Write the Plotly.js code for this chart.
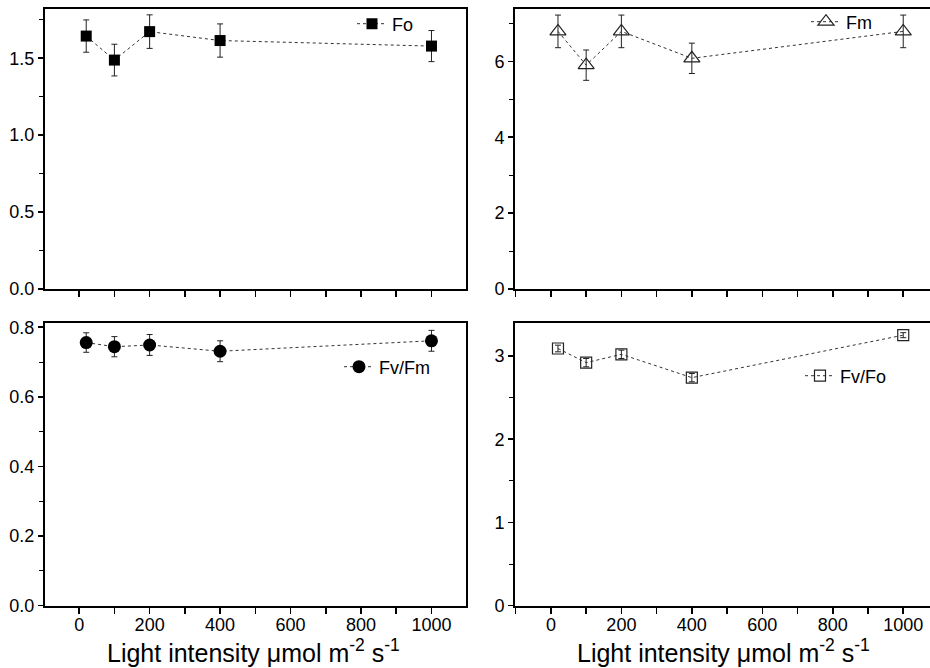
<!DOCTYPE html>
<html>
<head>
<meta charset="utf-8">
<script src="https://cdn.plot.ly/plotly-3.0.1.min.js"></script>
<style>html,body{margin:0;padding:0;background:#fff;}#chart{width:930px;height:668px;}</style>
</head>
<body>
<div id="chart"></div>
<script>
// Data
const lightIntensity = [20, 100, 200, 400, 1000];
const foValues   = [1.644, 1.488, 1.673, 1.615, 1.579];
const foErrors   = [0.105, 0.103, 0.109, 0.108, 0.101];
const fmValues   = [6.79, 5.90, 6.79, 6.08, 6.79];
const fmErrors   = [0.43, 0.40, 0.43, 0.40, 0.43];
const fvfmValues = [0.756, 0.744, 0.749, 0.731, 0.761];
const fvfmErrors = [0.028, 0.029, 0.030, 0.030, 0.030];
const fvfoValues = [3.09, 2.92, 3.02, 2.74, 3.25];
const fvfoErrors = [0.04, 0.05, 0.05, 0.05, 0.03];
const seriesNames = ['Fo', 'Fm', 'Fv/Fm', 'Fv/Fo'];
const xTitle = 'Light intensity \u03bcmol m<sup>-2</sup> s<sup>-1</sup>';

const FONT = 'Liberation Sans, Arial, sans-serif';
const lineStyle = {color: '#333', width: 1, dash: 'dot'};
function err(arr) {
  return {type: 'data', array: arr, visible: true, color: '#222', thickness: 1, width: 3};
}

const traces = [
  {x: lightIntensity, y: foValues, name: seriesNames[0], type: 'scatter', mode: 'lines+markers',
   xaxis: 'x', yaxis: 'y', legend: 'legend',
   line: lineStyle, marker: {symbol: 'square', size: 11, color: '#000'}, error_y: err(foErrors)},
  {x: lightIntensity, y: fmValues, name: seriesNames[1], type: 'scatter', mode: 'lines+markers',
   xaxis: 'x2', yaxis: 'y2', legend: 'legend2',
   line: lineStyle, marker: {symbol: 'triangle-up-open', size: 14, color: '#222', line: {width: 1.2, color: '#222'}}, error_y: err(fmErrors)},
  {x: lightIntensity, y: fvfmValues, name: seriesNames[2], type: 'scatter', mode: 'lines+markers',
   xaxis: 'x3', yaxis: 'y3', legend: 'legend3',
   line: lineStyle, marker: {symbol: 'circle', size: 13, color: '#000'}, error_y: err(fvfmErrors)},
  {x: lightIntensity, y: fvfoValues, name: seriesNames[3], type: 'scatter', mode: 'lines+markers',
   xaxis: 'x4', yaxis: 'y4', legend: 'legend4',
   line: lineStyle, marker: {symbol: 'square-open', size: 11, color: '#222', line: {width: 1.2, color: '#222'}}, error_y: err(fvfoErrors)}
];

const W = 930, H = 668;
const leftDom = [45 / W, 466 / W];
const rightDom = [515 / W, 1];
const topDom = [1 - 289 / H, 1 - 9 / H];
const botDom = [1 - 605.7 / H, 1 - 322.7 / H];

function xax(dom, range, labels, anchor, mirror) {
  return {
    domain: dom, range: range, anchor: anchor,
    showline: true, linewidth: 2, linecolor: '#000', mirror: mirror,
    ticks: 'outside', ticklen: 6, tickwidth: 1.5, tickcolor: '#000',
    tick0: 0, dtick: 200, showgrid: false, zeroline: false,
    minor: {dtick: 100, ticks: 'outside', ticklen: 6, tickwidth: 1.5, tickcolor: '#000', showgrid: false},
    showticklabels: labels,
    ticklabelstandoff: -4,
    tickfont: {family: FONT, size: 18, color: '#000'}
  };
}
function yax(dom, range, dtick, minorD, fmt, anchor, mirror) {
  return {
    domain: dom, range: range, anchor: anchor,
    showline: true, linewidth: 2, linecolor: '#000', mirror: mirror,
    ticks: 'outside', ticklen: 5, tickwidth: 1.5, tickcolor: '#000',
    tick0: 0, dtick: dtick, tickformat: fmt, showgrid: false, zeroline: false,
    minor: {dtick: minorD, ticks: 'outside', ticklen: 4, tickwidth: 1, tickcolor: '#000', showgrid: false},
    tickfont: {family: FONT, size: 18, color: '#000'},
    ticklabelstandoff: 0
  };
}
function leg(x, y) {
  return {x: x, y: y, xanchor: 'left', yanchor: 'middle', bgcolor: 'rgba(0,0,0,0)',
          font: {family: FONT, size: 18, color: '#000'}, borderwidth: 0, itemwidth: 30};
}
function xTitleAnn(cx) {
  return {text: xTitle, xref: 'paper', yref: 'paper', x: cx / W, y: 1 - 651 / H,
          xanchor: 'center', yanchor: 'middle', showarrow: false,
          font: {family: FONT, size: 25, color: '#000'}};
}

const layout = {
  width: W, height: H,
  margin: {l: 0, r: 0, t: 0, b: 0},
  paper_bgcolor: '#fff', plot_bgcolor: '#fff',
  showlegend: true,
  font: {family: FONT, color: '#000'},
  xaxis: xax(leftDom, [-97, 1098], false, 'y', true),
  yaxis: yax(topDom, [0, 1.82], 0.5, 0.25, '.1f', 'x', true),
  xaxis2: xax(rightDom, [-102, 1076], false, 'y2', true),
  yaxis2: yax(topDom, [0, 7.38], 2, 1, 'd', 'x2', false),
  xaxis3: xax(leftDom, [-97, 1098], true, 'y3', true),
  yaxis3: yax(botDom, [0, 0.813], 0.2, 0.1, '.1f', 'x3', true),
  xaxis4: xax(rightDom, [-102, 1076], true, 'y4', true),
  yaxis4: yax(botDom, [0, 3.4], 1, 0.5, 'd', 'x4', false),
  legend: leg(352 / W, 1 - 24 / H),
  legend2: leg(806 / W, 1 - 22 / H),
  legend3: leg(339 / W, 1 - 367 / H),
  legend4: leg(800 / W, 1 - 376 / H),
  annotations: [xTitleAnn(253), xTitleAnn(723)]
};

Plotly.newPlot('chart', traces, layout, {displayModeBar: false, staticPlot: true});
</script>
</body>
</html>
